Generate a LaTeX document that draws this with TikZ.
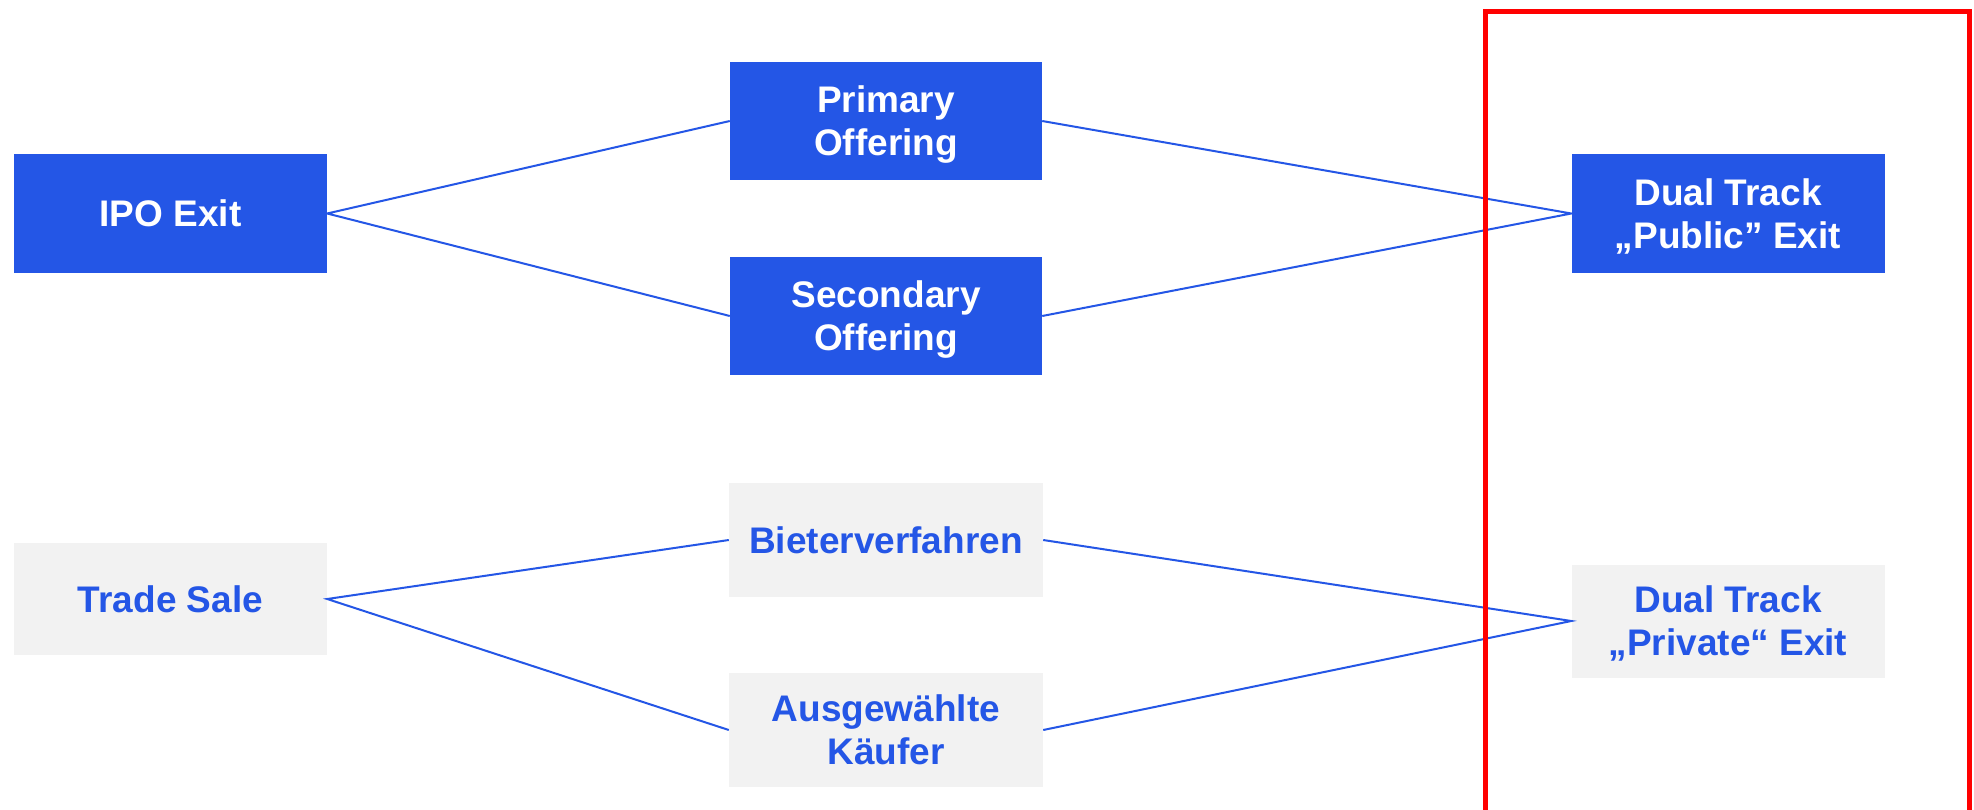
\documentclass[tikz,border=0pt]{standalone}
\usepackage{fontspec}
\setmainfont{Liberation Sans}
\definecolor{bblue}{RGB}{36,86,230}
\definecolor{lgrey}{RGB}{242,242,242}
\definecolor{rred}{RGB}{255,0,0}
\tikzset{
  boxbase/.style={rectangle, inner sep=0pt, align=center,
    font=\fontsize{37}{43}\selectfont\bfseries},
  bluebox/.style={boxbase, fill=bblue, text=white},
  greybox/.style={boxbase, fill=lgrey, text=bblue},
  twoline/.style={text depth=0pt},
  conn/.style={draw=bblue, line width=2pt}
}
\begin{document}
\begin{tikzpicture}[x=1pt,y=-1pt]
\useasboundingbox (0,0) rectangle (1974,809);
\fill[white] (0,0) rectangle (1974,809);
% top row
\node[bluebox, minimum width=313pt, minimum height=119pt] (ipo) at (170.5,213.5) {IPO Exit};
\node[bluebox, twoline, minimum width=312pt, minimum height=118pt] (primary) at (886,121) {Primary\\Offering};
\node[bluebox, twoline, minimum width=312pt, minimum height=118pt] (secondary) at (886,316) {Secondary\\Offering};
\node[bluebox, twoline, minimum width=313pt, minimum height=119pt] (public) at (1728,213.5) {Dual Track\\„Public” Exit};
% bottom row
\node[greybox, minimum width=313pt, minimum height=112pt] (trade) at (170.5,599) {Trade Sale};
\node[greybox, minimum width=314pt, minimum height=114pt] (bieter) at (886,540) {Bieterverfahren};
\node[greybox, twoline, minimum width=314pt, minimum height=114pt] (ausg) at (886,730) {Ausgewählte\\Käufer};
\node[greybox, twoline, minimum width=313pt, minimum height=113pt] (private) at (1728,621) {Dual Track\\„Private“ Exit};
% connectors
\draw[conn] (primary.west) -- (ipo.east) -- (secondary.west);
\draw[conn] (primary.east) -- (public.west) -- (secondary.east);
\draw[conn] (bieter.west) -- (trade.east) -- (ausg.west);
\draw[conn] (bieter.east) -- (private.west) -- (ausg.east);
% red frame
\coordinate (rbl) at (1485,815);
\coordinate (rtl) at (1485,11);
\coordinate (rtr) at (1969,11);
\coordinate (rbr) at (1969,815);
\draw[rred, line width=5pt] (rbl) -- (rtl) -- (rtr) -- (rbr);
\end{tikzpicture}
\end{document}
